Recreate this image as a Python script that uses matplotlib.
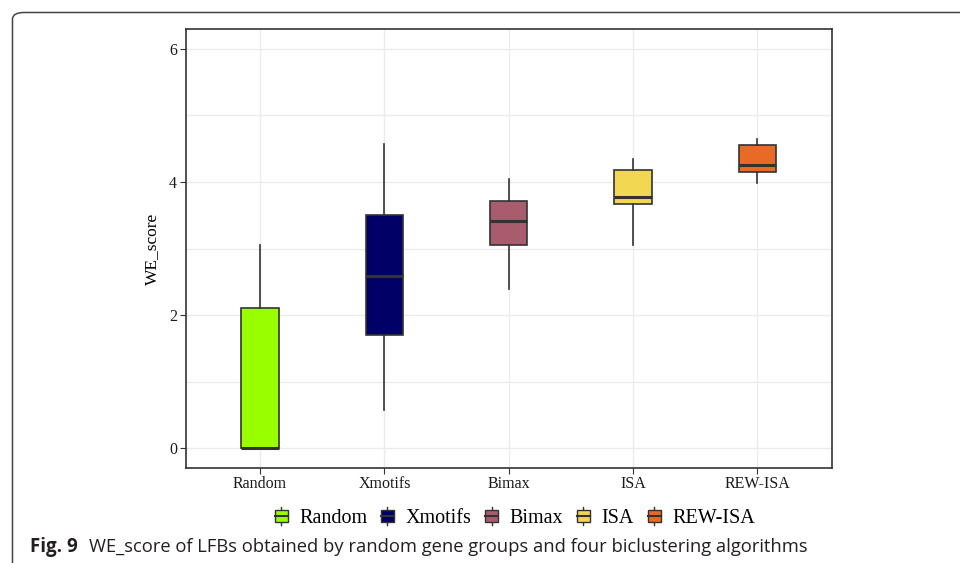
import matplotlib
matplotlib.use("Agg")
import matplotlib.pyplot as plt
from matplotlib.patches import Rectangle, FancyBboxPatch
from matplotlib.lines import Line2D
from matplotlib.legend_handler import HandlerBase

# five-number summaries of WE_score per method
methods = ["Random", "Xmotifs", "Bimax", "ISA", "REW-ISA"]
whisker_low = [0.0, 0.57, 2.39, 3.05, 3.98]
q1 = [0.0, 1.70, 3.06, 3.67, 4.15]
median = [0.0, 2.59, 3.42, 3.77, 4.25]
q3 = [2.10, 3.51, 3.72, 4.18, 4.55]
whisker_high = [3.06, 4.57, 4.05, 4.34, 4.65]
colors = ["#99FF00", "#000066", "#A85C6E", "#F2D752", "#E96A25"]

yticks = [0, 2, 4, 6]
caption_bold = "Fig. 9"
caption_text = "WE_score of LFBs obtained by random gene groups and four biclustering algorithms"

serif = ["Liberation Serif", "DejaVu Serif"]
edge = "#333333"


class BoxKeyHandler(HandlerBase):
    # small boxplot glyph for legend keys
    def create_artists(self, legend, orig_handle, xdescent, ydescent,
                       width, height, fontsize, trans):
        w = width * 0.65
        x0 = (width - w) / 2 - xdescent
        y0 = -ydescent + height * 0.1
        h = height * 0.8
        rect = Rectangle((x0, y0), w, h, facecolor=orig_handle.get_facecolor(),
                         edgecolor=edge, lw=1.0, transform=trans)
        cx = x0 + w / 2
        med = Line2D([x0, x0 + w], [y0 + h / 2] * 2, color=edge, lw=1.5, transform=trans)
        top = Line2D([cx, cx], [y0 + h, -ydescent + height * 1.08], color=edge, lw=1.0, transform=trans)
        bot = Line2D([cx, cx], [-ydescent - height * 0.08, y0], color=edge, lw=1.0, transform=trans)
        return [top, bot, rect, med]


fig = plt.figure(figsize=(9.6, 5.63), dpi=100)
W, H = 960, 563
ax = fig.add_axes([185.5 / W, 1 - 468 / H, (832 - 185.5) / W, (468 - 29) / H])

stats = []
for i, m in enumerate(methods):
    stats.append({"label": m, "whislo": whisker_low[i], "q1": q1[i], "med": median[i],
                  "q3": q3[i], "whishi": whisker_high[i], "fliers": []})

bp = ax.bxp(stats, positions=range(1, len(methods) + 1), widths=0.3,
            patch_artist=True, showcaps=False, zorder=3,
            boxprops=dict(edgecolor=edge, linewidth=1.2),
            medianprops=dict(color=edge, linewidth=2.2),
            whiskerprops=dict(color=edge, linewidth=1.2))
for patch, c in zip(bp["boxes"], colors):
    patch.set_facecolor(c)

ax.set_xlim(0.4, 5.6)
ax.set_ylim(-0.3, 6.3)
ax.set_yticks(yticks)
ax.set_yticks([1, 3, 5], minor=True)
ax.set_xticks(range(1, len(methods) + 1))
ax.set_xticklabels(methods)
ax.grid(True, which="both", color="#EBEBEB", lw=1.0, zorder=0)
ax.set_axisbelow(True)
ax.tick_params(which="major", length=4, width=0.8, color=edge, pad=2,
               labelsize=11.5, labelcolor="#1a1a1a")
ax.tick_params(which="minor", length=0)
for lab in ax.get_xticklabels() + ax.get_yticklabels():
    lab.set_family(serif)
for s in ax.spines.values():
    s.set_color(edge)
    s.set_linewidth(1.2)
ax.set_ylabel("WE_score", family=serif, fontsize=12.5)
ax.yaxis.set_label_coords((160 - 185.5) / (832 - 185.5), (468 - 249) / (468 - 29))

handles = [Rectangle((0, 0), 1, 1, facecolor=c) for c in colors]
leg = fig.legend(handles, methods, loc="center", bbox_to_anchor=(513 / W, 1 - 518 / H),
                 ncol=5, frameon=False, handler_map={Rectangle: BoxKeyHandler()},
                 prop={"family": serif, "size": 14.5}, handlelength=1.0,
                 handletextpad=0.4, columnspacing=0.5, handleheight=0.8)

# page border with rounded corner
border = FancyBboxPatch((12.5 / W, -0.1), 1.2, 1 - 12.5 / H + 0.1,
                        boxstyle="round,pad=0,rounding_size=0.012",
                        transform=fig.transFigure, fill=False,
                        edgecolor="#444444", lw=1.1, clip_on=False)
fig.patches.append(border)

cap_font = ["Open Sans", "DejaVu Sans"]
t = fig.text(30 / W, 1 - 547 / H, caption_bold, family=cap_font, fontsize=13.5,
             fontweight="bold", va="center", color="#231f20")
fig.canvas.draw()
bb = t.get_window_extent()
fig.text((bb.x1 + 11) / W, 1 - 547 / H, caption_text, family=cap_font, fontsize=13.2,
         va="center", color="#231f20")

fig.savefig("out.png", dpi=100)
